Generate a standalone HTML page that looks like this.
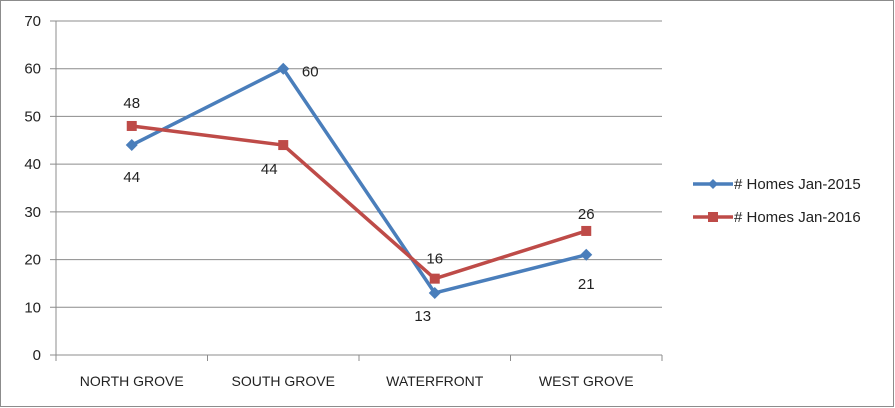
<!DOCTYPE html>
<html><head><meta charset="utf-8"><style>
html,body{margin:0;padding:0;background:#fff}
svg{display:block;font-family:"Liberation Sans",sans-serif}
</style></head><body>
<svg id="chart" width="895" height="408" xmlns="http://www.w3.org/2000/svg">
<rect x="0.5" y="0.5" width="893" height="406" fill="#fff" stroke="#8c8c8c"/>
<g id="grid"></g><g id="axes"></g><g id="series"></g><g id="legend"></g>
</svg>
<script>
const categories = ["NORTH GROVE","SOUTH GROVE","WATERFRONT","WEST GROVE"];
const series2015 = [44,60,13,21];
const series2016 = [48,44,16,26];
const yTicks = [0,10,20,30,40,50,60,70];
const NS="http://www.w3.org/2000/svg";
const L=56,R=662,T=21,B=355,yMax=70;
const y=v=>B-(v/yMax)*(B-T);
const band=(R-L)/categories.length;
const x=i=>L+band*(i+0.5);
function mk(tag,attrs,parent,text){const e=document.createElementNS(NS,tag);for(const k in attrs)e.setAttribute(k,attrs[k]);if(text!==undefined)e.textContent=text;parent.appendChild(e);return e;}
const grid=document.getElementById('grid'),axes=document.getElementById('axes'),ser=document.getElementById('series'),leg=document.getElementById('legend');
yTicks.forEach(t=>{
  const g=mk('line',{x1:50,x2:R,y1:y(t),y2:y(t),stroke:'#8c8c8c','stroke-width':1},grid);
  
  
  const lb=mk('text',{x:41,y:y(t)+5,'text-anchor':'end','font-size':15,fill:'#222'},axes,String(t));
  
  
});
const ax=mk('line',{x1:L,x2:L,y1:T,y2:B+5,stroke:'#8c8c8c'},axes);


for(let i=0;i<=categories.length;i++){const tk=mk('line',{x1:L+band*i,x2:L+band*i,y1:B,y2:B+6,stroke:'#8c8c8c'},axes);

}
categories.forEach((c,i)=>{const t=mk('text',{x:x(i),y:386,'text-anchor':'middle','font-size':14,fill:'#222'},axes,c);

});
function draw(vals,color,marker,name,labelOff){
  const pl=mk('polyline',{points:vals.map((v,i)=>x(i)+','+y(v)).join(' '),fill:'none',stroke:color,'stroke-width':3.5,'stroke-linejoin':'round'},ser);
  
  
  vals.forEach((v,i)=>{
    let m;
    if(marker==='d'){m=mk('polygon',{points:`${x(i)},${y(v)-6} ${x(i)+6},${y(v)} ${x(i)},${y(v)+6} ${x(i)-6},${y(v)}`,fill:color},ser);}
    else{m=mk('rect',{x:x(i)-5,y:y(v)-5,width:10,height:10,fill:color},ser);}
    
    
    const o=labelOff[i];
    const t=mk('text',{x:x(i)+o[0],y:y(v)+o[1],'text-anchor':'middle','font-size':15,fill:'#222'},ser,String(v));
    
    
  });
}
draw(series2015,'#4a7ebb','d','series-2015',[[0,37],[27,8],[-12,28],[0,34]]);
draw(series2016,'#be4b48','s','series-2016',[[0,-18],[-14,29],[0,-15],[0,-12]]);
function legItem(yy,color,marker,label,name){
  const l=mk('line',{x1:693,x2:733,y1:yy,y2:yy,stroke:color,'stroke-width':3.5},leg);
  
  
  let m;
  if(marker==='d')m=mk('polygon',{points:`713,${yy-5} 718,${yy} 713,${yy+5} 708,${yy}`,fill:color},leg);
  else m=mk('rect',{x:708,y:yy-5,width:10,height:10,fill:color},leg);
  
  
  const t=mk('text',{x:734,y:yy+5,'font-size':15,fill:'#222'},leg,label);
  
  
}
legItem(184,'#4a7ebb','d','# Homes Jan-2015','legend-entry-2015');
legItem(217,'#be4b48','s','# Homes Jan-2016','legend-entry-2016');
</script>
</body></html>
